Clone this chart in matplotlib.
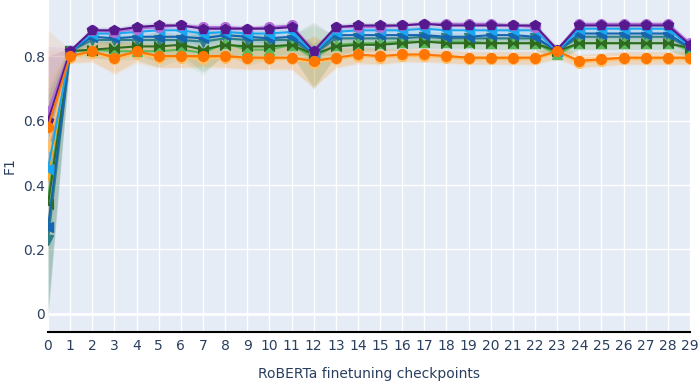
import numpy as np
import matplotlib
matplotlib.use("Agg")
from matplotlib import pyplot as plt

plt.rcParams['font.family'] = ['DejaVu Sans']

# checkpoints 0..29
checkpoints = list(range(30))

# F1 values per run
purple_dark = [0.60, 0.815, 0.88, 0.88, 0.89, 0.895, 0.895, 0.885, 0.885, 0.885, 0.885, 0.89, 0.815, 0.89, 0.895,
               0.895, 0.895, 0.90, 0.895, 0.895, 0.895, 0.895, 0.895, 0.82, 0.895, 0.895, 0.895, 0.895, 0.895, 0.835]
purple_light = [0.63, 0.815, 0.88, 0.875, 0.885, 0.89, 0.895, 0.89, 0.89, 0.885, 0.89, 0.895, 0.815, 0.89, 0.89,
                0.89, 0.895, 0.90, 0.90, 0.90, 0.90, 0.895, 0.89, 0.82, 0.90, 0.90, 0.90, 0.90, 0.90, 0.84]
blue_light = [0.45, 0.815, 0.87, 0.87, 0.875, 0.88, 0.88, 0.87, 0.875, 0.87, 0.87, 0.875, 0.81, 0.875, 0.88,
              0.88, 0.88, 0.885, 0.88, 0.88, 0.88, 0.88, 0.88, 0.815, 0.885, 0.885, 0.885, 0.885, 0.885, 0.83]
blue_dark = [0.27, 0.815, 0.86, 0.855, 0.86, 0.86, 0.86, 0.855, 0.865, 0.86, 0.855, 0.86, 0.81, 0.865, 0.865,
             0.865, 0.865, 0.865, 0.86, 0.86, 0.865, 0.865, 0.86, 0.815, 0.87, 0.87, 0.87, 0.87, 0.87, 0.825]
teal = [0.23, 0.815, 0.85, 0.85, 0.85, 0.85, 0.85, 0.845, 0.855, 0.85, 0.85, 0.85, 0.805, 0.855, 0.855,
        0.855, 0.855, 0.86, 0.855, 0.855, 0.855, 0.855, 0.855, 0.815, 0.86, 0.86, 0.86, 0.86, 0.86, 0.825]
green_dark = [0.34, 0.815, 0.82, 0.825, 0.83, 0.83, 0.835, 0.82, 0.835, 0.83, 0.83, 0.835, 0.805, 0.83, 0.835,
              0.835, 0.84, 0.845, 0.84, 0.84, 0.84, 0.84, 0.84, 0.815, 0.84, 0.84, 0.84, 0.84, 0.84, 0.825]
green_light = [0.36, 0.815, 0.82, 0.815, 0.815, 0.815, 0.82, 0.81, 0.84, 0.82, 0.82, 0.835, 0.795, 0.835, 0.84,
               0.84, 0.845, 0.845, 0.845, 0.845, 0.84, 0.84, 0.84, 0.805, 0.84, 0.84, 0.84, 0.84, 0.84, 0.82]
orange = [0.58, 0.80, 0.815, 0.795, 0.815, 0.80, 0.80, 0.80, 0.80, 0.795, 0.795, 0.795, 0.785, 0.795, 0.805,
          0.80, 0.805, 0.805, 0.80, 0.795, 0.795, 0.795, 0.795, 0.815, 0.785, 0.79, 0.795, 0.795, 0.795, 0.795]
orange_light = [0.52, 0.795, 0.81, 0.79, 0.805, 0.795, 0.795, 0.79, 0.795, 0.79, 0.79, 0.79, 0.78, 0.79, 0.80,
                0.795, 0.80, 0.80, 0.795, 0.79, 0.79, 0.79, 0.79, 0.81, 0.78, 0.785, 0.79, 0.79, 0.79, 0.79]
orange_mid = [0.43, 0.80, 0.81, 0.80, 0.81, 0.80, 0.80, 0.795, 0.80, 0.795, 0.795, 0.795, 0.78, 0.795, 0.80,
              0.80, 0.80, 0.80, 0.80, 0.795, 0.795, 0.795, 0.795, 0.81, 0.785, 0.79, 0.795, 0.795, 0.795, 0.795]

# spread of the shaded bands (half width)
spread_top = [0.20, 0.01, 0.01, 0.01, 0.01, 0.01, 0.01, 0.01, 0.01, 0.01, 0.01, 0.01, 0.01, 0.01, 0.01,
              0.01, 0.01, 0.01, 0.01, 0.01, 0.01, 0.01, 0.01, 0.01, 0.01, 0.01, 0.01, 0.01, 0.01, 0.01]
spread_mid = [0.25, 0.01, 0.015, 0.015, 0.015, 0.015, 0.015, 0.02, 0.015, 0.015, 0.015, 0.015, 0.03, 0.015, 0.015,
              0.015, 0.015, 0.015, 0.015, 0.015, 0.015, 0.015, 0.015, 0.015, 0.015, 0.015, 0.015, 0.015, 0.015, 0.02]
spread_green = [0.34, 0.015, 0.025, 0.03, 0.025, 0.05, 0.03, 0.07, 0.03, 0.05, 0.03, 0.03, 0.10, 0.03, 0.02,
                0.02, 0.02, 0.02, 0.02, 0.02, 0.02, 0.02, 0.02, 0.02, 0.02, 0.02, 0.02, 0.02, 0.02, 0.03]
spread_orange = [0.30, 0.02, 0.03, 0.05, 0.03, 0.035, 0.035, 0.03, 0.035, 0.035, 0.035, 0.035, 0.08, 0.03, 0.025,
                 0.025, 0.02, 0.02, 0.02, 0.02, 0.02, 0.02, 0.02, 0.02, 0.02, 0.02, 0.02, 0.02, 0.02, 0.02]

bowtie = [(-1, 1), (-1, -1), (1, 1), (1, -1), (-1, 1)]

series = [
    (teal, spread_mid, '#2f7f86', 'v'),
    (orange_mid, spread_orange, '#ffa726', 'o'),
    (orange_light, spread_orange, '#ffc069', 'o'),
    (green_light, spread_green, '#5cb85c', '^'),
    (green_dark, spread_green, '#2e6b1f', bowtie),
    (blue_dark, spread_mid, '#1565b0', '<'),
    (blue_light, spread_top, '#1aa7f2', '<'),
    (purple_light, spread_top, '#b070d8', 'o'),
    (purple_dark, spread_top, '#561a8e', 'p'),
    (orange, spread_orange, '#ff7700', 'o'),
]

fig = plt.figure(figsize=(7, 3.84), dpi=100)
ax = fig.add_axes([48 / 700, 52 / 384, 642 / 700, 332 / 384])
ax.set_facecolor('#E5ECF6')

x = np.array(checkpoints)
for vals, spread, col, mk in series:
    v = np.array(vals)
    s = np.array(spread)
    ax.fill_between(x, v - s, v + s, color=col, alpha=0.10, linewidth=0, zorder=1)
for vals, spread, col, mk in series:
    ax.plot(x, vals, color=col, linewidth=1.5, marker=mk, markersize=7, zorder=3)

ax.set_xlim(0, 29)
ax.set_ylim(-0.056, 0.974)
ax.set_xticks(checkpoints)
ax.set_yticks([0, 0.2, 0.4, 0.6, 0.8])
ax.set_yticklabels(['0', '0.2', '0.4', '0.6', '0.8'])
ax.grid(True, color='white', linewidth=1, zorder=0)
ax.set_axisbelow(True)
ax.axhline(0, color='white', linewidth=2, zorder=0.5)
for sp in ['top', 'right', 'left']:
    ax.spines[sp].set_visible(False)
ax.spines['bottom'].set_color('black')
ax.spines['bottom'].set_linewidth(1.5)
ax.tick_params(axis='both', length=0, labelsize=10, colors='#2a3f5f')
ax.tick_params(axis='x', pad=5)
ax.tick_params(axis='y', pad=2)
ax.set_xlabel('RoBERTa finetuning checkpoints', fontsize=10, color='#2a3f5f', labelpad=10)
# y title placed by hand so it stays inside the figure
fig.text(10 / 700, 1 - 166 / 384, 'F1', rotation=90, ha='center', va='center',
         fontsize=10, color='#2a3f5f')

fig.savefig('out.png', dpi=100)
